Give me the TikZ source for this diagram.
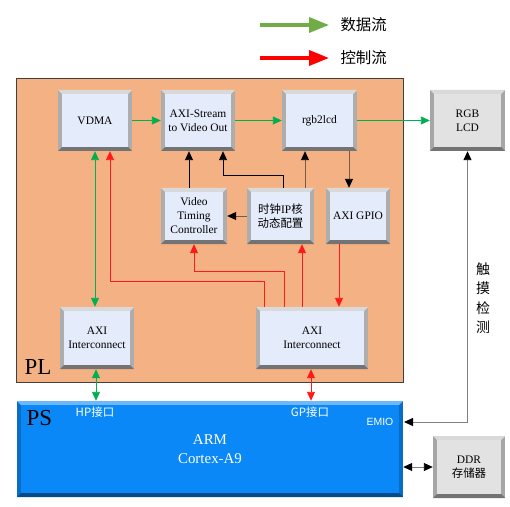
\documentclass[tikz,border=0pt]{standalone}
\usepackage{fontspec}
\setmainfont{Liberation Serif}
\newfontfamily\cjk{Noto Sans CJK SC}
\newfontfamily\sansf{Liberation Sans}
\usetikzlibrary{arrows.meta,calc}
\definecolor{plfill}{HTML}{F4B183}
\definecolor{psfill}{HTML}{0A88F8}
\definecolor{boxin}{HTML}{E4EBFA}
\definecolor{grayin}{HTML}{E2E2E2}
\definecolor{dgreen}{HTML}{00B050}
\definecolor{lgreen}{HTML}{70AD47}
\definecolor{dred}{HTML}{FF1A1A}
\definecolor{brownl}{HTML}{7A5A44}
\tikzset{
  bev/.style n args={4}{inner sep=1bp, align=center, fill=#2,
    path picture={
      \coordinate (bvnw) at (path picture bounding box.north west);
      \coordinate (bvse) at (path picture bounding box.south east);
      \coordinate (bvne) at (path picture bounding box.north east);
      \coordinate (bvsw) at (path picture bounding box.south west);
      \fill[#3] (bvnw) -- (bvne) -- ([shift={(-4bp,-4bp)}]bvne) -- ([shift={(4bp,-4bp)}]bvnw) -- cycle;
      \fill[#4] (bvsw) -- (bvse) -- ([shift={(-4bp,4bp)}]bvse) -- ([shift={(4bp,4bp)}]bvsw) -- cycle;
      \fill[#1] ([shift={(4bp,-4bp)}]bvnw) rectangle ([shift={(-4bp,4bp)}]bvse);
    }},
  blk/.style={bev={boxin}{black!32}{black!15}{black!55}, font=\fontsize{11.5}{14}\selectfont},
  gblk/.style={bev={grayin}{black!35}{black!15}{black!55}, font=\fontsize{11.5}{14}\selectfont},
  tip/.tip={Triangle[length=9bp,width=8bp]},
  btip/.tip={Triangle[length=9bp,width=8bp,color=black]},
  conn/.style={line width=0.9bp},
  gr/.style={conn, dgreen, -tip},
  grd/.style={conn, dgreen, tip-tip},
  rd/.style={conn, dred, -tip},
  rdd/.style={conn, dred, tip-tip},
  bk/.style={conn, black, -tip},
  br/.style={conn, brownl, -btip},
  gy/.style={conn, black!50, btip-btip},
  leg/.style={line width=3.5bp, -{Triangle[length=20bp,width=15bp]}},
  legtext/.style={font=\cjk\fontsize{15.5}{17}\selectfont, anchor=west},
}
\begin{document}
\begin{tikzpicture}[x=1bp,y=-1bp]
\useasboundingbox (0,0) rectangle (510,507);
% legend
\coordinate (lg1) at (260,25); \coordinate (lg2) at (329,25);
\coordinate (lr1) at (260,58); \coordinate (lr2) at (329,58);
\draw[leg, lgreen] (lg1) -- (lg2);
\draw[leg, red] (lr1) -- (lr2);
\node[legtext] (tg) at (337,25) {数据流};
\node[legtext] (tr) at (337,58) {控制流};
% PL
\node[draw=black!75, line width=1bp, fill=plfill, minimum width=386bp, minimum height=303bp, inner sep=0] (pl) at (210,230.5) {};
\node[font=\fontsize{23}{25}\selectfont] (pllbl) at (38,367) {PL};
% PS
\node[bev={psfill}{psfill!80!black}{psfill!60!white}{psfill!55!black}, minimum width=386bp, minimum height=96bp] (ps) at (210,449) {};
\node[font=\fontsize{23}{25}\selectfont, anchor=west] (pslbl) at (23,418) {PS};
\node[font=\cjk\fontsize{11.5}{13}\selectfont, white] (hp) at (95,412) {HP接口};
\node[font=\cjk\fontsize{11.5}{13}\selectfont, white] (gp) at (310,412) {GP接口};
\node[font=\sansf\fontsize{10.5}{12}\selectfont, white] (emiot) at (380,422) {EMIO};
\node[font=\fontsize{15}{17}\selectfont, white] (arm) at (210,440) {ARM};
\node[font=\fontsize{15}{17}\selectfont, white] (cortex) at (210,459) {Cortex-A9};
% blocks
\node[blk, minimum width=74bp, minimum height=61bp] (vdma) at (95,120.5) {VDMA};
\node[blk, minimum width=74bp, minimum height=61bp] (axis) at (198,120.5) {AXI-Stream\\to Video Out};
\node[blk, minimum width=75bp, minimum height=61bp] (rgb) at (319.5,120.5) {rgb2lcd};
\node[gblk, minimum width=75bp, minimum height=61bp] (lcd) at (467.5,120.5) {RGB\\LCD};
\node[blk, minimum width=66bp, minimum height=56bp] (vtc) at (194,216) {Video\\Timing\\Controller};
\node[blk, minimum width=67bp, minimum height=56bp] (clk) at (280.5,216) {{\cjk 时钟}IP{\cjk 核}\\{\cjk 动态配置}};
\node[blk, minimum width=64bp, minimum height=56bp] (gpio) at (358,216) {AXI GPIO};
\node[blk, minimum width=74bp, minimum height=62bp] (axil) at (97,338) {AXI\\Interconnect};
\node[blk, minimum width=112bp, minimum height=62bp] (axir) at (312,338) {AXI\\Interconnect};
\node[gblk, minimum width=72bp, minimum height=62bp] (ddr) at (469,467) {DDR\\{\cjk 存储器}};
\node[font=\cjk\fontsize{14}{19.5}\selectfont, align=center] (touch) at (483,298) {触\\摸\\检\\测};
% data flow
\draw[gr] (vdma) -- (axis);
\draw[gr] (axis) -- (rgb);
\draw[gr] (rgb) -- (lcd);
\draw[grd] (vdma.south) -- (vdma.south |- axil.north);
\draw[grd] ([xshift=-1bp]axil.south) -- ([xshift=-1bp]axil.south |- ps.north);
% black
\draw[bk] ([xshift=-5bp]vtc.north) -- ([xshift=-5bp]vtc.north |- axis.south);
\draw[bk] ([xshift=2.5bp]clk.north) -- ++(0,-12) -| ([xshift=25bp]axis.south);
\draw[br] ([xshift=24.5bp]clk.north) -- ([xshift=24.5bp]clk.north |- rgb.south);
\draw[br] ([xshift=-9bp]gpio.north |- rgb.south) -- ([xshift=-9bp]gpio.north);
\draw[br] (clk.west) -- (vtc.east);
% control
\draw[rd] ([xshift=-48bp]axir.north) -- ++(0,-25) -| ([xshift=15bp]vdma.south);
\draw[rd] ([xshift=-28bp]axir.north) -- ++(0,-35) -| (vtc.south);
\draw[rd] ([xshift=-10bp]axir.north) -- ([xshift=-10bp]axir.north |- clk.south);
\draw[rd] ([xshift=-19bp]gpio.south) -- ([xshift=-19bp]gpio.south |- axir.north);
\draw[rdd] ([xshift=-1bp]axir.south) -- ([xshift=-1bp]axir.south |- ps.north);
% touch / ddr
\coordinate (emio) at (404,422);
\draw[gy] (lcd.south) |- (emio);
\draw[gy] (ddr.west) -- (ddr.west -| ps.east);
\end{tikzpicture}
\end{document}
